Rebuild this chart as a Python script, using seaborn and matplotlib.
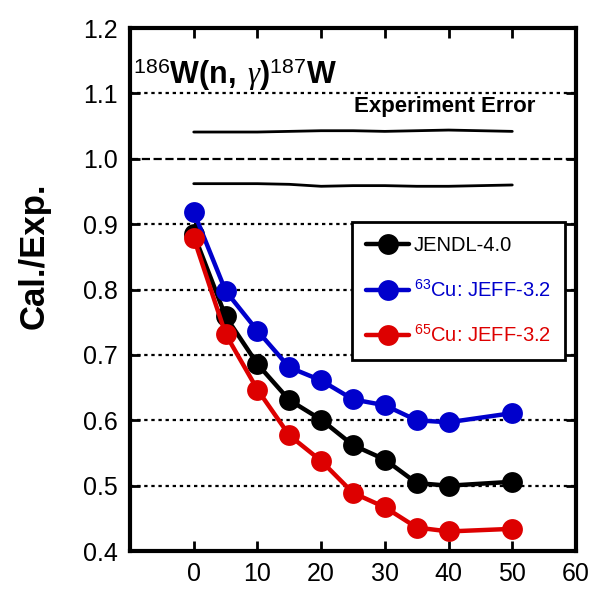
import matplotlib
matplotlib.use("Agg")
import matplotlib.pyplot as plt
from matplotlib import font_manager
import seaborn as sns
import pandas as pd

# ---- data ----
x_vals = [0, 5, 10, 15, 20, 25, 30, 35, 40, 50]
jendl = [0.885, 0.759, 0.686, 0.631, 0.601, 0.562, 0.540, 0.504, 0.500, 0.506]
cu63 = [0.919, 0.798, 0.737, 0.681, 0.661, 0.632, 0.623, 0.600, 0.597, 0.611]
cu65 = [0.879, 0.732, 0.647, 0.577, 0.538, 0.489, 0.467, 0.436, 0.430, 0.434]
err_upper = [1.041, 1.041, 1.041, 1.042, 1.043, 1.043, 1.042, 1.043, 1.044, 1.042]
err_lower = [0.962, 0.962, 0.962, 0.961, 0.958, 0.959, 0.959, 0.958, 0.958, 0.960]
series_labels = ["JENDL-4.0", r"$^{63}$Cu: JEFF-3.2", r"$^{65}$Cu: JEFF-3.2"]
series_colors = ["#000000", "#0000CC", "#DD0000"]
x_ticks = [0, 10, 20, 30, 40, 50, 60]
y_ticks = [0.4, 0.5, 0.6, 0.7, 0.8, 0.9, 1.0, 1.1, 1.2]

sns.set_theme(style="ticks")


def have(name):
    try:
        font_manager.findfont(font_manager.FontProperties(family=name),
                              fallback_to_default=False)
        return True
    except Exception:
        return False


narrow = "Liberation Sans"
for cand in ["Liberation Sans Narrow", "DejaVu Sans Condensed"]:
    if have(cand):
        narrow = cand
        break

plt.rcParams["font.family"] = ["Liberation Sans", "DejaVu Sans"]
plt.rcParams["text.color"] = "black"
plt.rcParams["axes.labelcolor"] = "black"
plt.rcParams["xtick.color"] = "black"
plt.rcParams["ytick.color"] = "black"
plt.rcParams["mathtext.fontset"] = "custom"
plt.rcParams["mathtext.rm"] = narrow
plt.rcParams["mathtext.bf"] = narrow + ":bold"
plt.rcParams["mathtext.it"] = "Liberation Serif:italic"

fig = plt.figure(figsize=(5.91, 5.90), dpi=100)
ax = fig.add_axes([0.22, 0.066, 0.7546, 0.8864])

# reference grid lines
ax.yaxis.grid(True, linestyle=(0, (1.5, 1.7)), color="black", linewidth=1.6)
ax.xaxis.grid(False)

df = pd.DataFrame({"x": x_vals, "JENDL": jendl, "Cu63": cu63, "Cu65": cu65})
for col, lab, colr in zip(["JENDL", "Cu63", "Cu65"], series_labels, series_colors):
    sns.lineplot(data=df, x="x", y=col, ax=ax, color=colr, label=lab,
                 marker="o", markersize=15, markeredgewidth=0, linewidth=3.2)

# experiment error band lines
ax.plot(x_vals, err_upper, color="black", linewidth=2)
ax.plot(x_vals, err_lower, color="black", linewidth=2)

ax.set_xlim(-10, 60)
ax.set_ylim(0.4, 1.2)
ax.set_xticks(x_ticks)
ax.set_yticks(y_ticks)
ax.set_yticklabels([f"{v:.1f}" for v in y_ticks])

# make the 1.0 grid line dashed
for val, gl in zip(y_ticks, ax.get_ygridlines()):
    if abs(val - 1.0) < 1e-9:
        gl.set_linestyle((0, (3.7, 1.6)))

ax.tick_params(axis="both", direction="in", length=7, width=2,
               labelsize=18, top=True, right=True, colors="black")
ax.tick_params(axis="y", pad=9)
ax.tick_params(axis="x", pad=8)
for s in ax.spines.values():
    s.set_linewidth(3)
    s.set_color("black")

ax.set_xlabel("")
ax.set_ylabel("Cal./Exp.", fontsize=25, fontweight="bold",
              family="Liberation Sans")
ax.yaxis.set_label_coords(-0.178, 0.565)

ax.text(-9.5, 1.114, r"${}^{186}\mathbf{W(n,}\ \gamma\mathbf{)}^{187}\mathbf{W}$",
        fontsize=22, ha="left", va="baseline")
ax.text(39.4, 1.071, "Experiment Error", fontsize=16, fontweight="bold",
        family="Liberation Sans", ha="center", va="baseline")

leg = ax.legend(loc="upper right", bbox_to_anchor=(0.975, 0.629),
                borderaxespad=0, prop={"family": narrow, "size": 14.5},
                frameon=True, fancybox=False,
                framealpha=1, edgecolor="black", handlelength=2.1,
                handletextpad=0.25, labelspacing=1.2, borderpad=0.7)
leg.get_frame().set_linewidth(2)
for t, ln in zip(leg.get_texts(), leg.get_lines()):
    t.set_color(ln.get_color())

fig.savefig("out.png", dpi=100)
